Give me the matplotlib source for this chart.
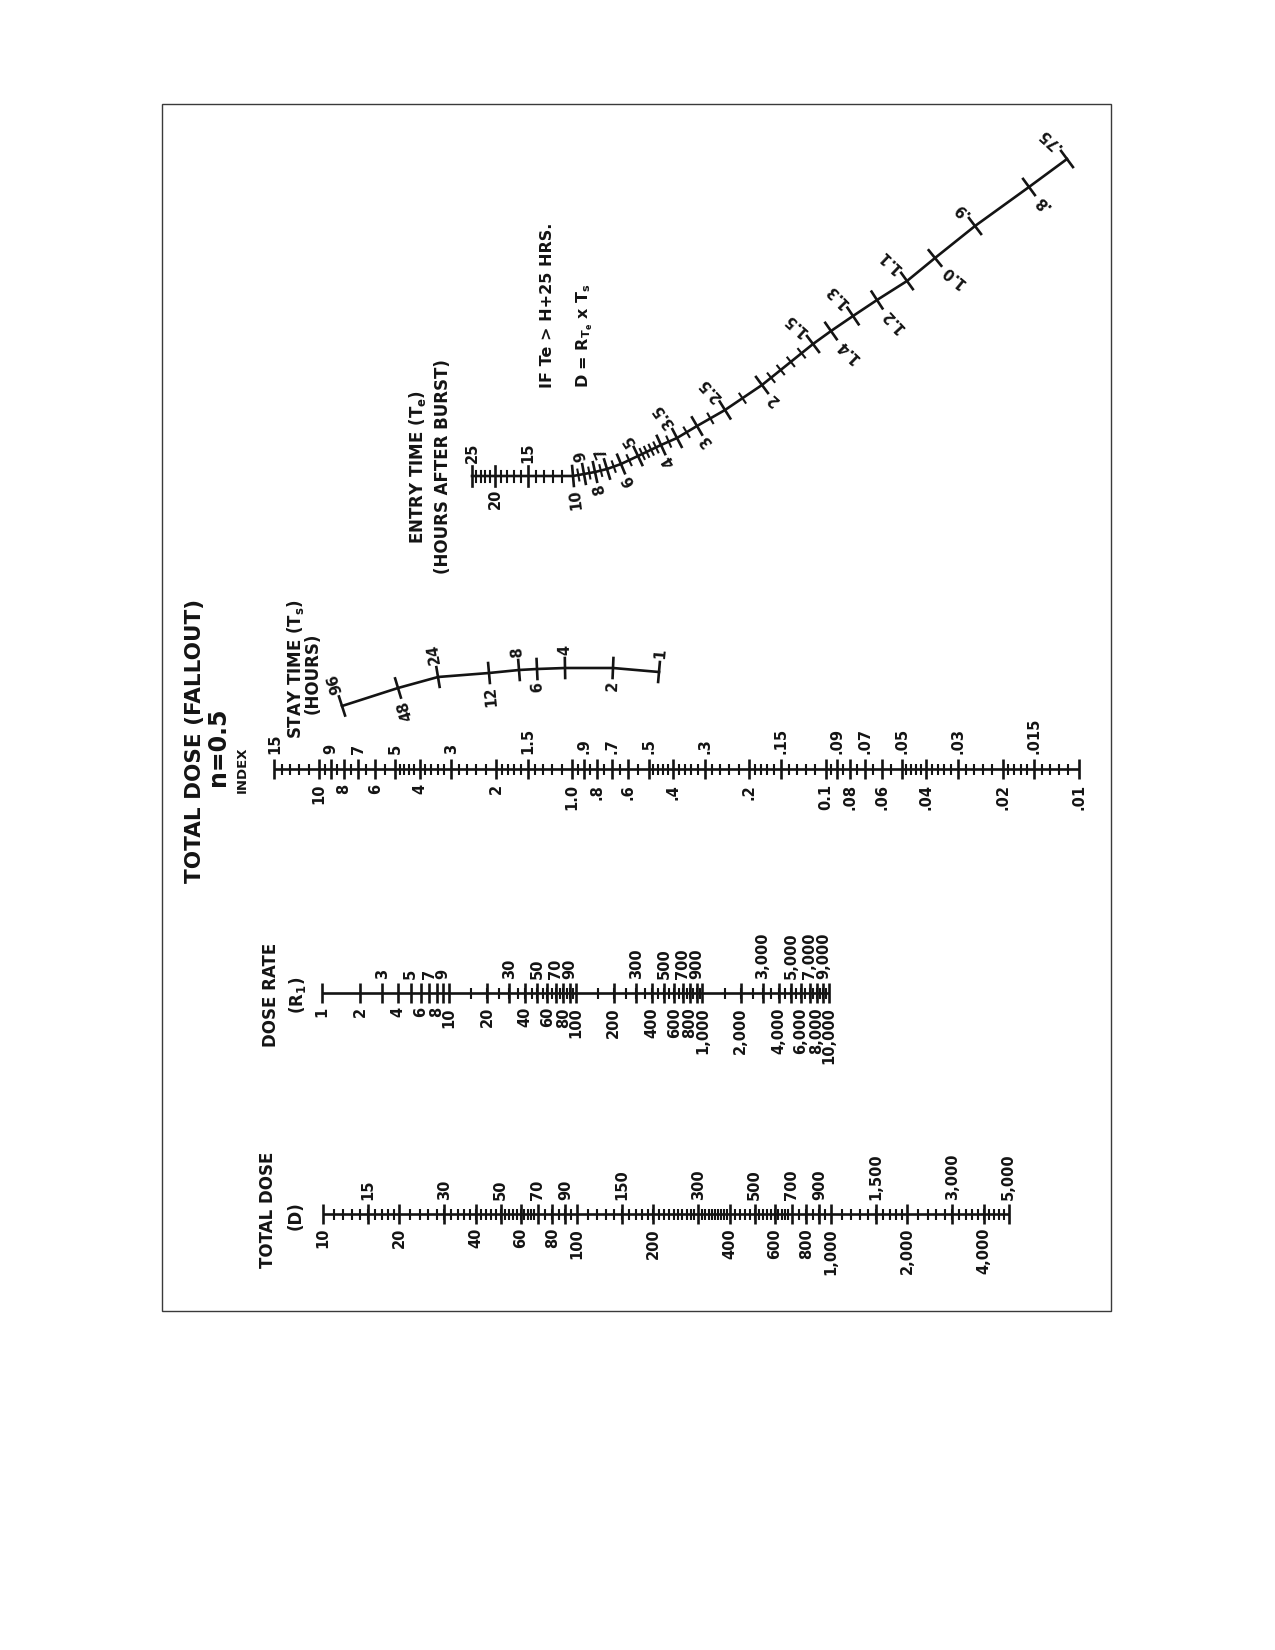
import numpy as np
import matplotlib
matplotlib.use('Agg')
import matplotlib.pyplot as plt

INK = "#141414"
plt.rcParams['font.family'] = ['DejaVu Sans']
plt.rcParams['mathtext.fontset'] = 'dejavusans'

# ── scale values ──────────────────────────────────────────────────
# total dose D
dose_top = [15, 30, 50, 70, 90, 150, 300, 500, 700, 900, 1500, 3000, 5000]
dose_bottom = [10, 20, 40, 60, 80, 100, 200, 400, 600, 800, 1000, 2000, 4000]
dose_minor_runs = [(10, 20, 1), (20, 70, 2), (70, 100, 5),
                   (100, 300, 10), (300, 400, 10), (400, 700, 20),
                   (700, 1000, 50), (1000, 2000, 100), (2000, 5000, 200)]

# dose rate R1
rate_top = [3, 5, 7, 9, 30, 50, 70, 90, 300, 500, 700, 900, 3000, 5000, 7000, 9000]
rate_bottom = [1, 2, 4, 6, 8, 10, 20, 40, 60, 80, 100, 200, 400, 600, 800,
               1000, 2000, 4000, 6000, 8000, 10000]
rate_minor_runs = [(10, 100, 5), (100, 1000, 50), (1000, 10000, 500)]

# index
index_top = [15, 9, 7, 5, 3, 1.5, .9, .7, .5, .3, .15, .09, .07, .05, .03, .015]
index_top_text = ["15", "9", "7", "5", "3", "1.5", ".9", ".7", ".5", ".3",
                  ".15", ".09", ".07", ".05", ".03", ".015"]
index_bottom = [10, 8, 6, 4, 2, 1.0, .8, .6, .4, .2, .1, .08, .06, .04, .02, .01]
index_bottom_text = ["10", "8", "6", "4", "2", "1.0", ".8", ".6", ".4", ".2",
                     "0.1", ".08", ".06", ".04", ".02", ".01"]
index_minor_decade = [1.1, 1.2, 1.3, 1.4, 1.6, 1.7, 1.8, 1.9, 2.2, 2.4, 2.6, 2.8,
                      3.2, 3.4, 3.6, 3.8, 4.2, 4.4, 4.6, 4.8, 5.5, 6.5, 7.5, 8.5, 9.5]
index_minor_top = [11, 12, 13, 14]

# stay time Ts (hours): read curve points
stay_vals = [96, 48, 24, 12, 8, 6, 4, 2, 1]
stay_x = [342, 398, 438, 489, 519, 537, 565, 613, 659]
stay_y = [706, 688, 677, 673, 670, 669, 668, 668, 672]
stay_up = [96, 24, 8, 4, 1]
stay_down = [48, 12, 6, 2]

# entry time Te (hours after burst): read curve points
entry_vals = [25, 20, 15, 10, 9, 8, 7, 6, 5, 4, 3.5, 3, 2.5, 2,
              1.5, 1.4, 1.3, 1.2, 1.1, 1.0, 0.9, 0.8, 0.75]
entry_x = [472, 495, 528, 573, 584, 595, 607, 621, 638, 661, 677, 697, 725, 762,
           813, 831, 853, 877, 907, 935, 975, 1029, 1067]
entry_y = [476, 476, 476, 476, 474, 472, 469, 464, 456, 445, 438, 426, 410, 385,
           344, 331, 316, 300, 281, 258, 226, 187, 159]
entry_up = [25, 15, 9, 7, 5, 3.5, 2.5, 1.5, 1.3, 1.1, .9, .75]
entry_up_text = ["25", "15", "9", "7", "5", "3.5", "2.5", "1.5", "1.3", "1.1", ".9", ".75"]
entry_down = [20, 10, 8, 6, 4, 3, 2, 1.4, 1.2, 1.0, .8]
entry_down_text = ["20", "10", "8", "6", "4", "3", "2", "1.4", "1.2", "1.0", ".8"]
entry_minor = [24, 23, 22, 21, 19, 18, 17, 16, 14, 13, 12, 11, 9.5, 8.5, 7.5, 6.5,
               5.5, 4.8, 4.6, 4.4, 4.2, 3.75, 3.25, 2.75, 2.25, 1.9, 1.8, 1.7, 1.6]


def runs(rs):
    out = []
    for a, b, s in rs:
        out += list(np.arange(a + s, b, s))
    return out


def fmt(v):
    return f"{v:,}"


# ── figure in page pixel coordinates ─────────────────────────────
fig = plt.figure(figsize=(12.75, 16.5), dpi=100)
fig.patch.set_facecolor("white")
ax = fig.add_axes([0, 0, 1, 1])
ax.set_xlim(0, 1275)
ax.set_ylim(1650, 0)
ax.axis("off")

ax.add_patch(plt.Rectangle((162, 104), 949, 1207, fill=False, ec="#3a3a3a", lw=1.0))

LW = 1.9
LW_MIN = 1.5
FS = 10.5


def hscale(y, pos, lo, hi, minor, top, top_txt, bot, bot_txt, off=14):
    ax.plot([pos(lo), pos(hi)], [y, y], color=INK, lw=LW, solid_capstyle="butt")
    ax.vlines([pos(v) for v in minor], y - 5.5, y + 5.5, color=INK, lw=LW_MIN)
    ax.vlines([pos(v) for v in list(top) + list(bot)], y - 10, y + 10, color=INK, lw=LW)
    for v, t in zip(top, top_txt):
        ax.text(pos(v), y - off, t, rotation=90, ha="center", va="bottom",
                fontsize=FS, fontweight="bold", color=INK)
    for v, t in zip(bot, bot_txt):
        ax.text(pos(v), y + off, t, rotation=90, ha="center", va="top",
                fontsize=FS, fontweight="bold", color=INK)


# total dose
DY = 1214
dpos = lambda v: 323 + 254.0 * np.log10(v / 10)
hscale(DY, dpos, 10, 5000, runs(dose_minor_runs), dose_top, [fmt(v) for v in dose_top],
       dose_bottom, [fmt(v) for v in dose_bottom])
ax.text(268, 1210, "TOTAL DOSE", rotation=90, ha="center", va="center",
        fontsize=12, fontweight="bold", color=INK)
ax.text(296, 1216, "(D)", rotation=90, ha="center", va="center",
        fontsize=12, fontweight="bold", color=INK)

# dose rate
RY = 993
rpos = lambda v: 322 + 126.8 * np.log10(v)
hscale(RY, rpos, 1, 10000, runs(rate_minor_runs), rate_top, [fmt(v) for v in rate_top],
       rate_bottom, [fmt(v) for v in rate_bottom])
ax.text(271, 995, "DOSE RATE", rotation=90, ha="center", va="center",
        fontsize=12, fontweight="bold", color=INK)
ax.text(297, 995, r"(R$_\mathbf{1}$)", rotation=90, ha="center", va="center",
        fontsize=12, fontweight="bold", color=INK)

# index
IY = 769
ipos = lambda v: 319 + 253.3 * np.log10(10 / v)
idx_minor = [m * d for d in (0.01, 0.1, 1) for m in index_minor_decade] + index_minor_top
hscale(IY, ipos, 15, 0.01, idx_minor, index_top, index_top_text,
       index_bottom, index_bottom_text, off=15)
ax.text(242, 770, "INDEX", rotation=90, ha="center", va="center",
        fontsize=9.5, fontweight="bold", color=INK)

# title
ax.text(195, 741, "TOTAL DOSE (FALLOUT)", rotation=90, ha="center", va="center",
        fontsize=15.5, fontweight="bold", color=INK)
ax.text(218, 747, "n=0.5", rotation=90, ha="center", va="center",
        fontsize=17, fontweight="bold", color=INK)


def curve_frame(vals, xs, ys, v):
    sp = -np.log10(np.asarray(vals, float))
    s = -np.log10(v)
    px, py = np.interp(s, sp, xs), np.interp(s, sp, ys)
    e = 0.004
    x1, y1 = np.interp(s - e, sp, xs), np.interp(s - e, sp, ys)
    x2, y2 = np.interp(s + e, sp, xs), np.interp(s + e, sp, ys)
    t = np.array([x2 - x1, y2 - y1])
    t /= np.hypot(*t)
    n = np.array([t[1], -t[0]])
    ang = np.degrees(np.arctan2(-t[1], t[0]))
    return np.array([px, py]), n, ang


def curve_scale(vals, xs, ys, minor, up, up_txt, down, down_txt, off=13, rot_k=1.0):
    ax.plot(xs, ys, color=INK, lw=LW, solid_joinstyle="round")
    for v in minor:
        p, n, _ = curve_frame(vals, xs, ys, v)
        a, b = p - 5.5 * n, p + 5.5 * n
        ax.plot([a[0], b[0]], [a[1], b[1]], color=INK, lw=LW_MIN)
    for v in list(up) + list(down):
        p, n, _ = curve_frame(vals, xs, ys, v)
        a, b = p - 10 * n, p + 10 * n
        ax.plot([a[0], b[0]], [a[1], b[1]], color=INK, lw=LW)
    for v, t in zip(up, up_txt):
        p, n, ang = curve_frame(vals, xs, ys, v)
        q = p + off * n
        ax.text(q[0], q[1], t, rotation=90 + rot_k * ang, rotation_mode="anchor",
                ha="left", va="center", fontsize=FS, fontweight="bold", color=INK)
    for v, t in zip(down, down_txt):
        p, n, ang = curve_frame(vals, xs, ys, v)
        q = p - off * n
        ax.text(q[0], q[1], t, rotation=90 + rot_k * ang, rotation_mode="anchor",
                ha="right", va="center", fontsize=FS, fontweight="bold", color=INK)


# stay time
curve_scale(stay_vals, stay_x, stay_y, [], stay_up, [str(v) for v in stay_up],
            stay_down, [str(v) for v in stay_down])
ax.text(295, 669, r"STAY TIME (T$_\mathbf{s}$)", rotation=90, ha="center", va="center",
        fontsize=12, fontweight="bold", color=INK)
ax.text(313, 673, "(HOURS)", rotation=90, ha="center", va="center",
        fontsize=12, fontweight="bold", color=INK)

# entry time
curve_scale(entry_vals, entry_x, entry_y, entry_minor, entry_up, entry_up_text,
            entry_down, entry_down_text, rot_k=1.3)
ax.text(417, 467, r"ENTRY TIME (T$_\mathbf{e}$)", rotation=90, ha="center", va="center",
        fontsize=12, fontweight="bold", color=INK)
ax.text(443, 467, "(HOURS AFTER BURST)", rotation=90, ha="center", va="center",
        fontsize=12, fontweight="bold", color=INK)

# note
ax.text(548, 388, "IF Te > H+25 HRS.", rotation=90, rotation_mode="anchor",
        ha="left", va="center", fontsize=11.5, fontweight="bold", color=INK)
ax.text(585, 388, r"D = R$_{\mathbf{T_e}}$ x T$_\mathbf{s}$", rotation=90,
        rotation_mode="anchor", ha="left", va="center",
        fontsize=11.5, fontweight="bold", color=INK)

fig.savefig("out.png", dpi=100, facecolor="white")
plt.close(fig)
